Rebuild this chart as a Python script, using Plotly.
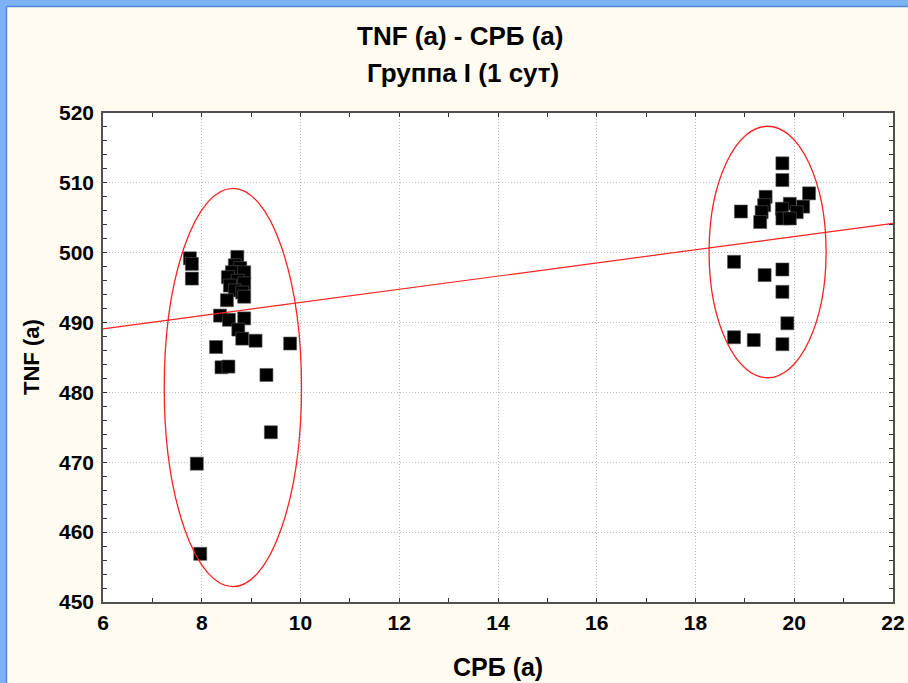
import plotly.graph_objects as go

# ---- data ----
crp_left = [7.76, 7.80, 7.80, 8.72, 8.67, 8.78, 8.61, 8.86, 8.53, 8.73, 8.86, 8.57,
            8.67, 8.82, 8.51, 8.86, 8.37, 8.55, 8.86, 8.74, 8.82, 9.09, 8.29, 8.40,
            8.54, 9.79, 9.31, 9.40, 7.90, 7.97]
tnf_left = [499.2, 498.4, 496.3, 499.4, 498.2, 497.8, 497.2, 497.2, 496.5, 496.0, 495.6, 495.3,
            494.6, 494.3, 493.2, 493.7, 491.0, 490.4, 490.6, 489.0, 487.7, 487.4, 486.5, 483.6,
            483.7, 487.0, 482.5, 474.3, 469.8, 456.9]
crp_right = [19.76, 19.76, 19.42, 19.39, 19.34, 19.31, 18.92, 20.30, 19.91, 20.18, 19.75,
             20.05, 19.76, 19.91, 18.78, 19.40, 19.76, 19.76, 19.86, 18.78, 19.18, 19.76]
tnf_right = [512.8, 510.4, 508.0, 506.8, 505.8, 504.4, 505.9, 508.5, 507.0, 506.6, 506.3,
             505.8, 504.9, 504.9, 498.7, 496.8, 497.6, 494.4, 489.9, 487.9, 487.5, 486.9]

# regression line (ends)
fit_x = [6, 22]
fit_y = [489.1, 504.2]

# ellipses: centre x, centre y, half-width, half-height
ell_cx = [8.63, 19.46]
ell_cy = [480.7, 500.1]
ell_rx = [1.39, 1.185]
ell_ry = [28.5, 18.0]

x_ticks = [6, 8, 10, 12, 14, 16, 18, 20, 22]
y_ticks = [450, 460, 470, 480, 490, 500, 510, 520]

title1 = "TNF (а) - СРБ (а)"
title2 = "Группа I (1 сут)"
x_title = "СРБ (а)"
y_title = "TNF (а)"

# ---- figure ----
W, H = 908, 683
ML, MR, MT, MB = 103, 15, 113, 81
PW, PH = W - ML - MR, H - MT - MB

def px2paper_x(px):
    return (px - ML) / PW

def px2paper_y(py):
    return (H - MB - py) / PH

FONT = "Liberation Sans, Arial, sans-serif"

fig = go.Figure()

fig.add_trace(go.Scatter(
    x=crp_left + crp_right, y=tnf_left + tnf_right, mode="markers",
    marker=dict(symbol="square", size=13, color="black",
                line=dict(color="#555555", width=0.6)),
    showlegend=False, hoverinfo="x+y"))

fig.add_trace(go.Scatter(
    x=fit_x, y=fit_y, mode="lines",
    line=dict(color="#ff2020", width=1.2), showlegend=False, hoverinfo="skip"))

shapes = []
for cx, cy, rx, ry in zip(ell_cx, ell_cy, ell_rx, ell_ry):
    shapes.append(dict(type="circle", xref="x", yref="y",
                       x0=cx - rx, x1=cx + rx, y0=cy - ry, y1=cy + ry,
                       line=dict(color="#ff2020", width=1.3), layer="above"))

# window-like blue border on top and left
blue = "#7ab2f4"
dark = "#4f86d6"
shapes.append(dict(type="rect", xref="paper", yref="paper",
                   x0=px2paper_x(0), x1=px2paper_x(W), y0=px2paper_y(7), y1=px2paper_y(0),
                   fillcolor=blue, line=dict(width=0), layer="below"))
shapes.append(dict(type="rect", xref="paper", yref="paper",
                   x0=px2paper_x(0), x1=px2paper_x(7), y0=px2paper_y(H), y1=px2paper_y(0),
                   fillcolor=blue, line=dict(width=0), layer="below"))
shapes.append(dict(type="line", xref="paper", yref="paper",
                   x0=px2paper_x(7), x1=px2paper_x(W), y0=px2paper_y(6.5), y1=px2paper_y(6.5),
                   line=dict(color=dark, width=1.5), layer="below"))
shapes.append(dict(type="line", xref="paper", yref="paper",
                   x0=px2paper_x(6.5), x1=px2paper_x(6.5), y0=px2paper_y(H), y1=px2paper_y(6.5),
                   line=dict(color=dark, width=1.5), layer="below"))

def label(text, xpx, ypx, size, angle=0):
    return dict(text=text, xref="paper", yref="paper", x=px2paper_x(xpx), y=px2paper_y(ypx),
                showarrow=False, xanchor="center", yanchor="middle", textangle=angle,
                font=dict(family=FONT, size=size, color="black", weight="bold"))

annotations = [
    label(title1, 460, 36, 26),
    label(title2, 463, 73, 26),
    label(x_title, 498, 667, 25),
    label(y_title, 31, 357, 22, angle=-90),
]

axis_common = dict(
    showline=True, linecolor="#505050", linewidth=1.5, mirror="ticks",
    ticks="inside", ticklen=4, tickcolor="#303030", tickwidth=1,
    showgrid=True, gridcolor="#bdbdbd", griddash="1px,2px", gridwidth=1,
    zeroline=False, automargin=False,
    tickfont=dict(family=FONT, size=21, color="black", weight="bold"),
)

fig.update_xaxes(
    range=[6, 22], tickvals=x_ticks, ticktext=[str(v) for v in x_ticks],
    minor=dict(dtick=1, ticks="inside", ticklen=4, tickcolor="#303030", showgrid=False),
    ticklabelstandoff=1,
    **axis_common)
fig.update_yaxes(
    range=[450, 520], tickvals=y_ticks, ticktext=[str(v) for v in y_ticks],
    minor=dict(dtick=2, ticks="inside", ticklen=4, tickcolor="#303030", showgrid=False),
    ticklabelstandoff=3,
    **axis_common)

fig.update_layout(
    width=W, height=H,
    margin=dict(l=ML, r=MR, t=MT, b=MB, pad=0),
    paper_bgcolor="#fffbf0", plot_bgcolor="white",
    shapes=shapes, annotations=annotations,
    showlegend=False,
)

fig.write_html("out.html")
